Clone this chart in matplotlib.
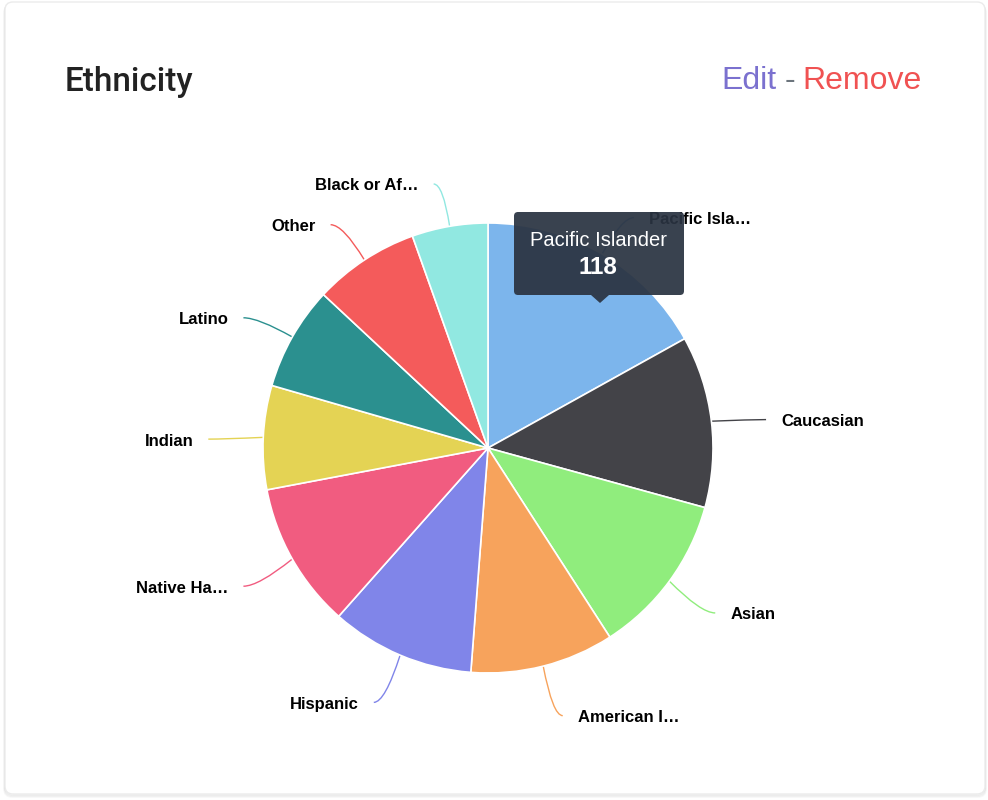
import numpy as np
import matplotlib.pyplot as plt
from matplotlib.patches import FancyBboxPatch, Polygon, PathPatch
from matplotlib.path import Path

# data
labels = ["Pacific Isla…", "Caucasian", "Asian", "American I…", "Hispanic",
          "Native Ha…", "Indian", "Latino", "Other", "Black or Af…"]
values = [118, 86, 81, 72, 72, 73, 52, 52, 53, 38]
colors = ["#7cb5ec", "#434348", "#90ed7d", "#f7a35c", "#8085e9",
          "#f15c80", "#e4d354", "#2b908f", "#f45b5b", "#91e8e1"]
tip_name = "Pacific Islander"
tip_value = 118

W, H = 988, 800
plt.rcParams['font.family'] = ['Liberation Sans', 'DejaVu Sans']

fig = plt.figure(figsize=(W / 100, H / 100), dpi=100)
fig.patch.set_facecolor('white')
ax = fig.add_axes([0, 0, 1, 1])
ax.set_xlim(0, W)
ax.set_ylim(0, H)

def py(y):
    # screen y (down) -> axes y (up)
    return H - y

# card with soft shadow
for i, a in enumerate([0.05, 0.04, 0.03]):
    ax.add_patch(FancyBboxPatch((5 - i * 0.5, py(794) - 1 - i), 980 + i, 792,
                                boxstyle="round,pad=0,rounding_size=8",
                                facecolor='none', edgecolor='black',
                                linewidth=1.2, alpha=a, zorder=0))
ax.add_patch(FancyBboxPatch((5, py(794)), 980, 792,
                            boxstyle="round,pad=0,rounding_size=8",
                            facecolor='white', edgecolor='#ebebeb',
                            linewidth=1, zorder=1))

# header
ax.text(65, py(82), "Ethnicity", fontsize=24, color='#222222',
        family=['Roboto', 'Liberation Sans'], fontweight='medium',
        ha='left', va='center', zorder=5)
t1 = ax.text(721, py(81), "Edit", fontsize=23, color='#7b71cf',
             ha='left', va='center', zorder=5)
fig.canvas.draw()
r = fig.canvas.get_renderer()
bb = t1.get_window_extent(r)
t2 = ax.text(bb.x1 + 8, py(81), "-", fontsize=23, color='#6c757d',
             ha='left', va='center', zorder=5)
bb = t2.get_window_extent(r)
ax.text(bb.x1 + 8, py(81), "Remove", fontsize=23, color='#f05252',
        ha='left', va='center', zorder=5)

# pie
cx, cy, rad = 488, py(448), 225
wedges, _ = ax.pie(values, colors=colors, startangle=90, counterclock=False,
                   center=(cx, cy), radius=rad, frame=True,
                   wedgeprops=dict(edgecolor='white', linewidth=1.2, zorder=3))

# labels with soft connectors
r_lab = 272
for w, lab, col in zip(wedges, labels, colors):
    mid = np.deg2rad((w.theta1 + w.theta2) / 2)
    c, s = np.cos(mid), np.sin(mid)
    side = 1 if c >= 0 else -1
    ly = cy + r_lab * s - 4
    p0 = (cx + rad * c, cy + rad * s)
    p1 = (cx + (r_lab - 8) * c, ly)
    p2 = (cx + r_lab * c + side * 8, ly)
    path = Path([p0, p1, p2], [Path.MOVETO, Path.CURVE3, Path.CURVE3])
    ax.add_patch(PathPatch(path, facecolor='none', edgecolor=col,
                           linewidth=1, zorder=2))
    ax.text(cx + r_lab * c + side * 23, ly - 2, lab,
            fontsize=12, fontweight='bold', color='black',
            ha='left' if side > 0 else 'right', va='center', zorder=4)

# tooltip
ax.add_patch(FancyBboxPatch((514, py(295)), 170, 83,
                            boxstyle="round,pad=0,rounding_size=4",
                            facecolor='#2a3341', edgecolor='none',
                            alpha=0.93, zorder=6))
ax.add_patch(Polygon([(591, py(295)), (609, py(295)), (600, py(303))],
                     closed=True, facecolor='#2a3341', edgecolor='none',
                     alpha=0.93, zorder=6))
ax.text(598, py(240), tip_name, fontsize=14.5, color='white',
        ha='center', va='center', zorder=7)
ax.text(598, py(268), str(tip_value), fontsize=17.5, fontweight='bold',
        color='white', ha='center', va='center', zorder=7)

ax.set_xlim(0, W)
ax.set_ylim(0, H)
ax.set_aspect('auto')
ax.axis('off')

fig.savefig('out.png', dpi=100, facecolor='white')
